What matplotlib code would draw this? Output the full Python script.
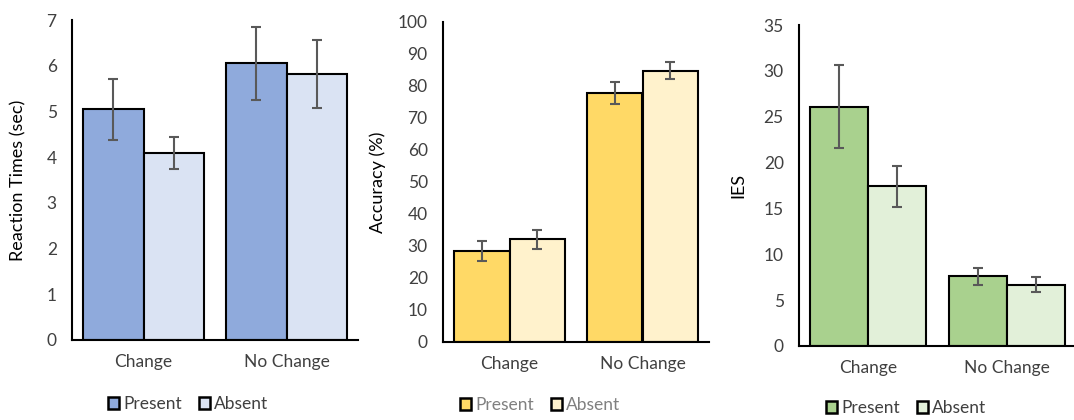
import matplotlib.pyplot as plt
from matplotlib.patches import Patch
import numpy as np

plt.rcParams['font.family'] = ['Lato', 'DejaVu Sans']

conditions = ["Change", "No Change"]
series_names = ["Present", "Absent"]

rt_present = [5.05, 6.05]
rt_absent = [4.08, 5.82]
rt_present_err = [0.67, 0.80]
rt_absent_err = [0.35, 0.75]

acc_present = [28.5, 77.8]
acc_absent = [32.1, 84.8]
acc_present_err = [3.1, 3.5]
acc_absent_err = [2.9, 2.7]

ies_present = [26.1, 7.6]
ies_absent = [17.4, 6.7]
ies_present_err = [4.5, 0.9]
ies_absent_err = [2.2, 0.85]

W, H = 1074, 420
fig = plt.figure(figsize=(W / 100, H / 100), dpi=100)


def px_axes(left, top, right, bottom):
    return fig.add_axes([left / W, 1 - bottom / H, (right - left) / W, (bottom - top) / H])


def bar_panel(ax, present, absent, perr, aerr, colors, ymax, ystep, width,
              ylabel, ylabel_x, legend_xy, legend_color):
    x = np.arange(len(conditions))
    ax.bar(x - width / 2, present, width, color=colors[0], edgecolor="black",
           linewidth=1.5, zorder=2)
    ax.bar(x + width / 2, absent, width, color=colors[1], edgecolor="black",
           linewidth=1.5, zorder=2)
    ax.errorbar(x - width / 2, present, yerr=perr, fmt="none", ecolor="#595959",
                elinewidth=1.5, capsize=3.5, capthick=1.5, zorder=3)
    ax.errorbar(x + width / 2, absent, yerr=aerr, fmt="none", ecolor="#595959",
                elinewidth=1.5, capsize=3.5, capthick=1.5, zorder=3)
    ax.set_xlim(-0.5, 1.5)
    ax.set_ylim(0, ymax)
    ax.set_yticks(np.arange(0, ymax + ystep / 2, ystep))
    ax.set_xticks(x)
    ax.set_xticklabels(conditions)
    for s in ["top", "right"]:
        ax.spines[s].set_visible(False)
    for s in ["left", "bottom"]:
        ax.spines[s].set_linewidth(1.5)
        ax.spines[s].set_color("black")
    ax.tick_params(axis="y", length=0, pad=11, labelsize=12.5, labelcolor="#404040")
    ax.tick_params(axis="x", length=0, pad=10, labelsize=12.5, labelcolor="#404040")
    ax.patch.set_alpha(0)
    yc = (ax.get_position().y0 + ax.get_position().y1) / 2
    fig.text(ylabel_x / W, yc, ylabel, rotation=90, ha="center", va="center",
             fontsize=13, color="black")
    handles = [Patch(facecolor=colors[0], edgecolor="black", linewidth=1.8),
               Patch(facecolor=colors[1], edgecolor="black", linewidth=1.8)]
    fig.legend(handles, series_names, loc="center",
               bbox_to_anchor=(legend_xy[0] / W, 1 - legend_xy[1] / H),
               ncol=2, frameon=False, fontsize=12.5, labelcolor=legend_color,
               handlelength=0.65, handleheight=0.65, handletextpad=0.2,
               columnspacing=1.0, borderaxespad=0)


ax1 = px_axes(72, 20, 358, 340)
bar_panel(ax1, rt_present, rt_absent, rt_present_err, rt_absent_err,
          ["#8FAADC", "#DAE3F3"], 7, 1, 0.42, "Reaction Times (sec)", 18,
          (188, 404), "#404040")

ax2 = px_axes(443, 22, 709, 342)
bar_panel(ax2, acc_present, acc_absent, acc_present_err, acc_absent_err,
          ["#FFD966", "#FFF2CC"], 100, 10, 0.415, "Accuracy (%)", 378,
          (540, 405), "#808080")

ax3 = px_axes(799, 25, 1076, 346)
bar_panel(ax3, ies_present, ies_absent, ies_present_err, ies_absent_err,
          ["#A9D18E", "#E2F0D9"], 35, 5, 0.42, "IES", 738,
          (906, 408), "#404040")

fig.savefig("out.png", dpi=100)
